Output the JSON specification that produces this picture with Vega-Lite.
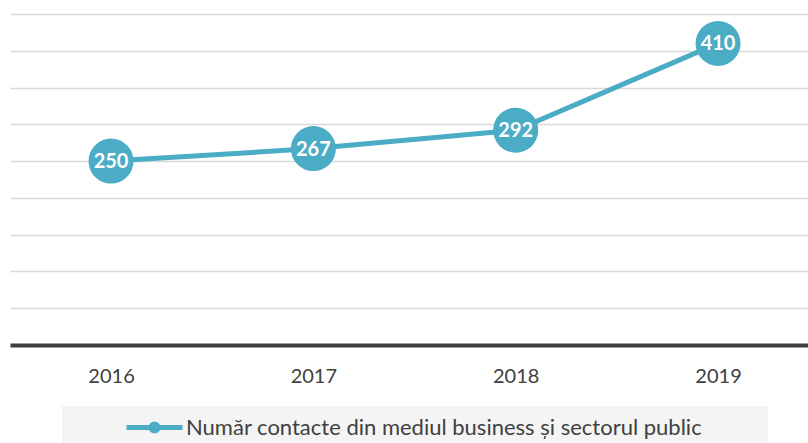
{
  "$schema": "https://vega.github.io/schema/vega-lite/v6.json",
  "width": 798,
  "height": 331,
  "autosize": "none",
  "padding": {"left": 10, "top": 14, "right": 0, "bottom": 98},
  "background": "white",
  "config": {
    "view": {"stroke": null},
    "font": "Lato"
  },
  "data": {
    "values": [
      {"year": "2016", "value": 250},
      {"year": "2017", "value": 267},
      {"year": "2018", "value": 292},
      {"year": "2019", "value": 410}
    ]
  },
  "encoding": {
    "x": {
      "field": "year",
      "type": "ordinal",
      "scale": {"type": "point", "padding": 0.472, "align": 0.529},
      "axis": {
        "title": null,
        "labelAngle": 0,
        "labelFont": "Lato",
        "labelFontSize": 20,
        "labelColor": "#404040",
        "ticks": false,
        "tickSize": 0,
        "labelPadding": 21,
        "domainColor": "#404040",
        "domainWidth": 4,
        "grid": false
      }
    },
    "y": {
      "field": "value",
      "type": "quantitative",
      "scale": {"domain": [0, 450], "nice": false},
      "axis": {
        "title": null,
        "labels": false,
        "ticks": false,
        "domain": false,
        "values": [50, 100, 150, 200, 250, 300, 350, 400, 450],
        "gridColor": "#d9d9d9",
        "gridWidth": 1.5
      }
    }
  },
  "layer": [
    {
      "mark": {"type": "line", "strokeWidth": 5, "color": "#4BACC6"},
      "encoding": {
        "color": {
          "datum": "Număr contacte din mediul business și sectorul public",
          "scale": {"range": ["#4BACC6"]},
          "legend": {
            "title": null,
            "orient": "none",
            "legendX": 52,
            "legendY": 392,
            "padding": 9,
            "fillColor": "#f4f4f4",
            "symbolType": "M-2.8,0H2.8M0.35,0A0.35,0.35,0,1,1,-0.35,0A0.35,0.35,0,1,1,0.35,0Z",
            "symbolSize": 400,
            "symbolStrokeWidth": 5,
            "symbolOffset": 71,
            "symbolStrokeColor": "#4BACC6",
            "symbolFillColor": "#4BACC6",
            "labelOffset": 19,
            "labelFont": "Lato",
            "labelFontSize": 22,
            "labelColor": "#404040",
            "labelLimit": 1000,
            "labelExpr": "datum.label + '\u00a0\u00a0\u00a0\u00a0\u00a0\u00a0\u00a0\u00a0\u00a0\u00a0\u200b'",
            "encode": {
              "symbols": {
                "update": {
                  "fill": {"value": "#4BACC6"},
                  "stroke": {"value": "#4BACC6"}
                }
              }
            }
          }
        }
      }
    },
    {
      "mark": {"type": "point", "filled": true, "size": 2025, "opacity": 1, "color": "#4BACC6"}
    },
    {
      "mark": {"type": "text", "color": "white", "fontWeight": "bold", "fontSize": 20, "font": "Lato", "baseline": "middle", "dy": 1},
      "encoding": {"text": {"field": "value", "type": "quantitative"}}
    }
  ]
}
